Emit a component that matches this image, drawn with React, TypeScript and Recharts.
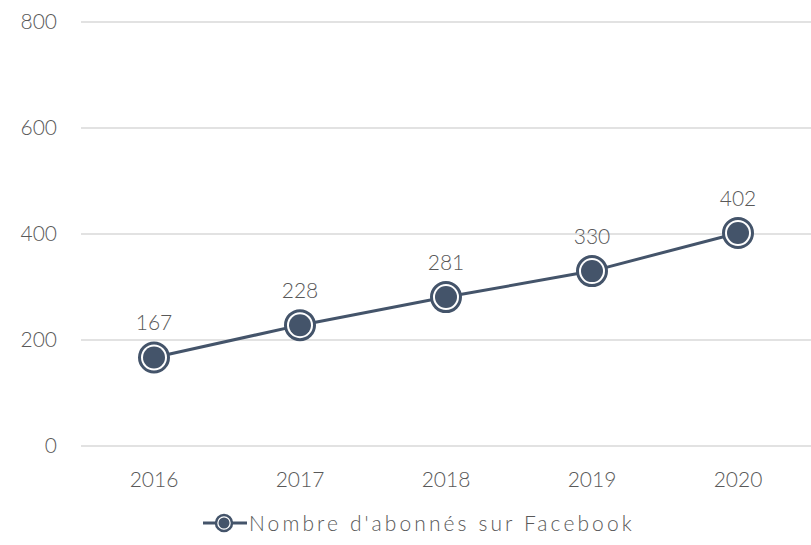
import React from "react";
import { LineChart, Line, XAxis, YAxis, CartesianGrid, LabelList, Legend } from "recharts";

const years = ["2016", "2017", "2018", "2019", "2020"];
const subscribers = [167, 228, 281, 330, 402];
const yTicks = [0, 200, 400, 600, 800];
const seriesName = "Nombre d'abonnés sur Facebook";

const data = years.map((y, i) => ({ year: y, value: subscribers[i] }));

const COLOR = "#44546A";
const TEXT = "#595959";
const FONT = "Lato, 'Open Sans', sans-serif";

const Dot = (props: any) => {
  const { cx, cy } = props;
  if (cx == null || cy == null) return null;
  return (
    <g>
      <circle cx={cx} cy={cy} r={14.5} fill="#fff" stroke={COLOR} strokeWidth={3} />
      <circle cx={cx} cy={cy} r={11} fill={COLOR} />
    </g>
  );
};

const LegendContent = () => (
  <div style={{ position: "relative", width: 811, height: 30, fontFamily: FONT, fontWeight: 300, fontSize: 21, color: TEXT }}>
    <div style={{ position: "absolute", left: 203, top: 0, display: "flex", alignItems: "center", whiteSpace: "nowrap" }}>
      <svg width={44} height={24} style={{ marginRight: 2 }}>
        <line x1={0} y1={12} x2={44} y2={12} stroke={COLOR} strokeWidth={3} />
        <circle cx={21} cy={12} r={8} fill="#fff" stroke={COLOR} strokeWidth={2.5} />
        <circle cx={21} cy={12} r={5.5} fill={COLOR} />
      </svg>
      <span style={{ letterSpacing: 3.1 }}>{seriesName}</span>
    </div>
  </div>
);

export default function App() {
  return (
    <div style={{ position: "absolute", left: 0, top: 0, width: 811, height: 545, background: "#fff" }}>
      <LineChart width={811} height={545} data={data} margin={{ top: 22, right: 0, bottom: 0, left: 0 }}>
        <CartesianGrid vertical={false} stroke="#d9d9d9" strokeWidth={1.5} />
        <XAxis
          dataKey="year"
          axisLine={false}
          tickLine={false}
          tickSize={0}
          tickMargin={26}
          height={64}
          padding={{ left: 73, right: 73 }}
          tick={{ fill: TEXT, fontSize: 21, fontFamily: FONT, fontWeight: 300 }}
        />
        <YAxis
          domain={[0, 800]}
          ticks={yTicks}
          axisLine={false}
          tickLine={false}
          tickSize={0}
          tickMargin={24}
          width={81}
          tick={{ fill: TEXT, fontSize: 21, fontFamily: FONT, fontWeight: 300 }}
        />
        <Legend verticalAlign="bottom" height={35} content={<LegendContent />} />
        <Line
          type="linear"
          dataKey="value"
          name={seriesName}
          stroke={COLOR}
          strokeWidth={3}
          dot={<Dot />}
          isAnimationActive={false}
        >
          <LabelList dataKey="value" position="top" offset={27} fill={TEXT} fontSize={21} fontFamily={FONT} fontWeight={300} />
        </Line>
      </LineChart>
    </div>
  );
}
